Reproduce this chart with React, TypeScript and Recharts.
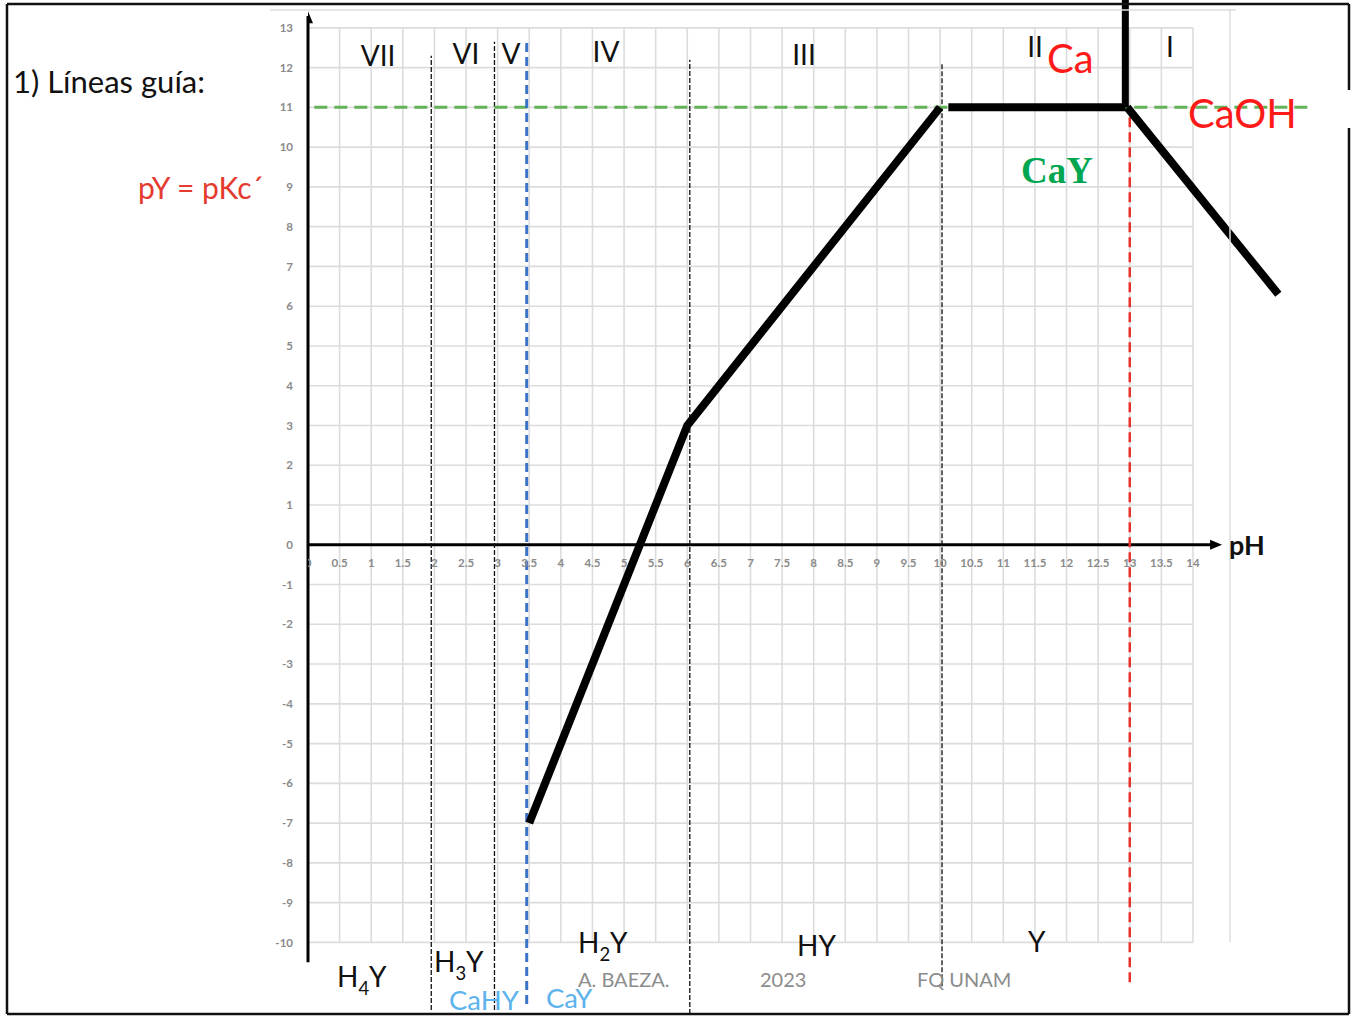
import React from 'react';
import { ComposedChart, Line, Scatter, XAxis, YAxis, ReferenceLine } from 'recharts';

const W = 1352;
const H = 1016;

// axis ticks
const phTicks = [0, 0.5, 1, 1.5, 2, 2.5, 3, 3.5, 4, 4.5, 5, 5.5, 6, 6.5, 7, 7.5, 8, 8.5, 9, 9.5, 10, 10.5, 11, 11.5, 12, 12.5, 13, 13.5, 14];
const pyTicks = [-10, -9, -8, -7, -6, -5, -4, -3, -2, -1, 0, 1, 2, 3, 4, 5, 6, 7, 8, 9, 10, 11, 12, 13];

// CaY existence line (H2Y -> HY -> Y)
const cayPH = [3.5, 6, 10];
const cayPY = [-7, 3, 11];
// Ca / CaY border at pY = pKc'
const caPH = [10.13, 12.93];
const caPY = [11, 11];
// Ca / CaOH border
const caohVertPH = [12.93, 12.93];
const caohVertPY = [11, 13.7];
// CaOH / CaY border
const caohPH = [12.96, 15.35];
const caohPY = [11, 6.3];

// guide lines (pKa values, as drawn)
const guidePH = [1.95, 2.95, 6.04, 10.03];
const guideTop = [12.3, 12.65, 12.2, 12.1];
const guideBottom = [-11.7, -11.7, -11.8, -11.1];
const pKc = 11;
const cahyPH = 3.46;
const caohPKa = 13;

const toPts = (xs: number[], ys: number[]) => xs.map((x, i) => ({ x, y: ys[i] }));

const phLabelData = phTicks.map((x) => ({ x, y: 0, label: String(x) }));

const FONT = 'Lato, "Open Sans", sans-serif';

const PhTickLabel = (props: any) => (
    <text
        x={props.cx}
        y={props.cy + 22}
        textAnchor="middle"
        fontSize={11.5}
        fontWeight={700}
        fill="#8a8a8a"
        fontFamily={FONT}
    >
        {props.payload.label}
    </text>
);

const ArrowRight = (props: any) => (
    <polygon
        points={`${props.cx},${props.cy} ${props.cx - 12},${props.cy - 5} ${props.cx - 12},${props.cy + 5}`}
        fill="#000"
    />
);

const ArrowUp = (props: any) => (
    <polygon
        points={`${props.cx},${props.cy} ${props.cx - 5},${props.cy + 12} ${props.cx + 5},${props.cy + 12}`}
        fill="#000"
    />
);

const Sub = ({ x, y, main, sub, tail, size, fill }: any) => (
    <text x={x} y={y} fontSize={size} fill={fill} fontFamily={FONT}>
        {main}
        <tspan fontSize={size * 0.66} dy={8}>{sub}</tspan>
        <tspan dy={-8}>{tail}</tspan>
    </text>
);

const App: React.FC = () => {
    const lineStyle = { stroke: '#000', strokeWidth: 8 };
    return (
        <div style={{ position: 'absolute', left: 0, top: 0, width: W, height: H, overflow: 'hidden', background: '#fff' }}>
            <ComposedChart width={W} height={H} margin={{ top: 0, right: 1, bottom: 2, left: 268 }}>
                <XAxis type="number" dataKey="x" domain={[0, 16.5]} hide allowDataOverflow />
                <YAxis
                    type="number"
                    dataKey="y"
                    domain={[-11.8, 13.7]}
                    ticks={pyTicks}
                    interval={0}
                    width={40}
                    axisLine={false}
                    tickLine={false}
                    tickMargin={9}
                    allowDataOverflow
                    tick={{ fontSize: 11.5, fontWeight: 700, fill: '#8a8a8a', fontFamily: FONT }}
                />

                {/* grid */}
                {phTicks.map((v) => (
                    <ReferenceLine
                        key={`gx${v}`}
                        segment={[{ x: v, y: -10 }, { x: v, y: 13 }]}
                        stroke="#dcdcdc"
                        strokeWidth={1.6}
                        ifOverflow="visible"
                    />
                ))}
                {pyTicks.map((v) => (
                    <ReferenceLine
                        key={`gy${v}`}
                        segment={[{ x: 0, y: v }, { x: 14, y: v }]}
                        stroke="#dcdcdc"
                        strokeWidth={1.6}
                        ifOverflow="visible"
                    />
                ))}

                {/* axes */}
                <ReferenceLine segment={[{ x: 0, y: 0 }, { x: 14.3, y: 0 }]} stroke="#000" strokeWidth={3} ifOverflow="visible" />
                <ReferenceLine segment={[{ x: 0, y: -10.5 }, { x: 0, y: 13.3 }]} stroke="#000" strokeWidth={3} ifOverflow="visible" />

                {/* guide lines */}
                {guidePH.map((v, i) => (
                    <ReferenceLine
                        key={`g${v}`}
                        segment={[{ x: v, y: guideBottom[i] }, { x: v, y: guideTop[i] }]}
                        stroke="#111"
                        strokeWidth={1.3}
                        strokeDasharray="5 2"
                        ifOverflow="visible"
                    />
                ))}
                <ReferenceLine
                    segment={[{ x: 0.1, y: pKc }, { x: 15.85, y: pKc }]}
                    stroke="#62b357"
                    strokeWidth={3}
                    strokeDasharray="13 7"
                    ifOverflow="visible"
                />
                <ReferenceLine
                    segment={[{ x: cahyPH, y: -11.55 }, { x: cahyPH, y: 12.7 }]}
                    stroke="#3b73c8"
                    strokeWidth={3}
                    strokeDasharray="9 5"
                    ifOverflow="visible"
                />
                <ReferenceLine
                    segment={[{ x: caohPKa, y: -11.0 }, { x: caohPKa, y: 11 }]}
                    stroke="#e8312b"
                    strokeWidth={2.5}
                    strokeDasharray="10 5"
                    ifOverflow="visible"
                />

                {/* existence lines */}
                <Line data={toPts(cayPH, cayPY)} dataKey="y" {...lineStyle} strokeLinejoin="miter" dot={false} isAnimationActive={false} />
                <Line data={toPts(caPH, caPY)} dataKey="y" {...lineStyle} dot={false} isAnimationActive={false} />
                <Line data={toPts(caohVertPH, caohVertPY)} dataKey="y" {...lineStyle} strokeWidth={7} dot={false} isAnimationActive={false} />
                <Line data={toPts(caohPH, caohPY)} dataKey="y" {...lineStyle} dot={false} isAnimationActive={false} />

                {/* tick labels and arrows */}
                <Scatter data={phLabelData} dataKey="y" shape={PhTickLabel} isAnimationActive={false} />
                <Scatter data={[{ x: 14.46, y: 0 }]} dataKey="y" shape={ArrowRight} isAnimationActive={false} />
                <Scatter data={[{ x: 0, y: 13.42 }]} dataKey="y" shape={ArrowUp} isAnimationActive={false} />
            </ComposedChart>

            <svg width={W} height={H} style={{ position: 'absolute', left: 0, top: 0, pointerEvents: 'none' }}>
                {/* frame */}
                <g stroke="#111" strokeWidth={2.5}>
                    <line x1={7} y1={4} x2={1349} y2={4} />
                    <line x1={7} y1={4} x2={7} y2={1014} />
                    <line x1={7} y1={1014} x2={1349} y2={1014} />
                    <line x1={1349} y1={4} x2={1349} y2={90} />
                    <line x1={1349} y1={128} x2={1349} y2={1014} />
                </g>
                <g stroke="#dedede" strokeWidth={1.5}>
                    <line x1={270} y1={10} x2={1236} y2={10} />
                    <line x1={1230} y1={10} x2={1230} y2={942} />
                </g>

                <text x={13} y={93} fontSize={31} fill="#111" fontFamily={FONT}>1) Líneas guía:</text>
                <text x={138} y={199} fontSize={30} fill="#e53a2f" fontFamily={FONT}>pY = pKc´</text>

                <g fontSize={28} fill="#111" fontFamily={FONT} textAnchor="middle">
                    <text x={378} y={66}>VII</text>
                    <text x={466} y={64}>VI</text>
                    <text x={511} y={64}>V</text>
                    <text x={606} y={62}>IV</text>
                    <text x={804} y={65}>III</text>
                    <text x={1035} y={57}>II</text>
                    <text x={1170} y={57}>I</text>
                </g>

                <text x={1047} y={73} fontSize={40} fill="#ff1a1a" fontFamily={FONT}>Ca</text>
                <text x={1188} y={128} fontSize={40} fill="#ff1a1a" fontFamily={FONT}>CaOH</text>
                <text x={1021} y={183} fontSize={37} fontWeight={700} fill="#00a650" fontFamily='"Liberation Serif", serif'>CaY</text>

                <Sub x={337} y={987} main="H" sub="4" tail="Y" size={28} fill="#111" />
                <Sub x={434} y={972} main="H" sub="3" tail="Y" size={28} fill="#111" />
                <Sub x={578} y={953} main="H" sub="2" tail="Y" size={28} fill="#111" />
                <text x={797} y={956} fontSize={28} fill="#111" fontFamily={FONT}>HY</text>
                <text x={1028} y={952} fontSize={28} fill="#111" fontFamily={FONT}>Y</text>

                <text x={449} y={1010} fontSize={27.5} fill="#5db3ec" fontFamily={FONT}>CaHY</text>
                <text x={546} y={1008} fontSize={27.5} fill="#5db3ec" fontFamily={FONT}>CaY</text>

                <g fontSize={20} fill="#8c8c8c" fontFamily={FONT}>
                    <text x={578} y={987}>A. BAEZA.</text>
                    <text x={760} y={987}>2023</text>
                    <text x={917} y={987}>FQ UNAM</text>
                </g>

                <text x={1229} y={555} fontSize={27} fontWeight={700} fill="#111" fontFamily={FONT}>pH</text>
            </svg>
        </div>
    );
};

export default App;
